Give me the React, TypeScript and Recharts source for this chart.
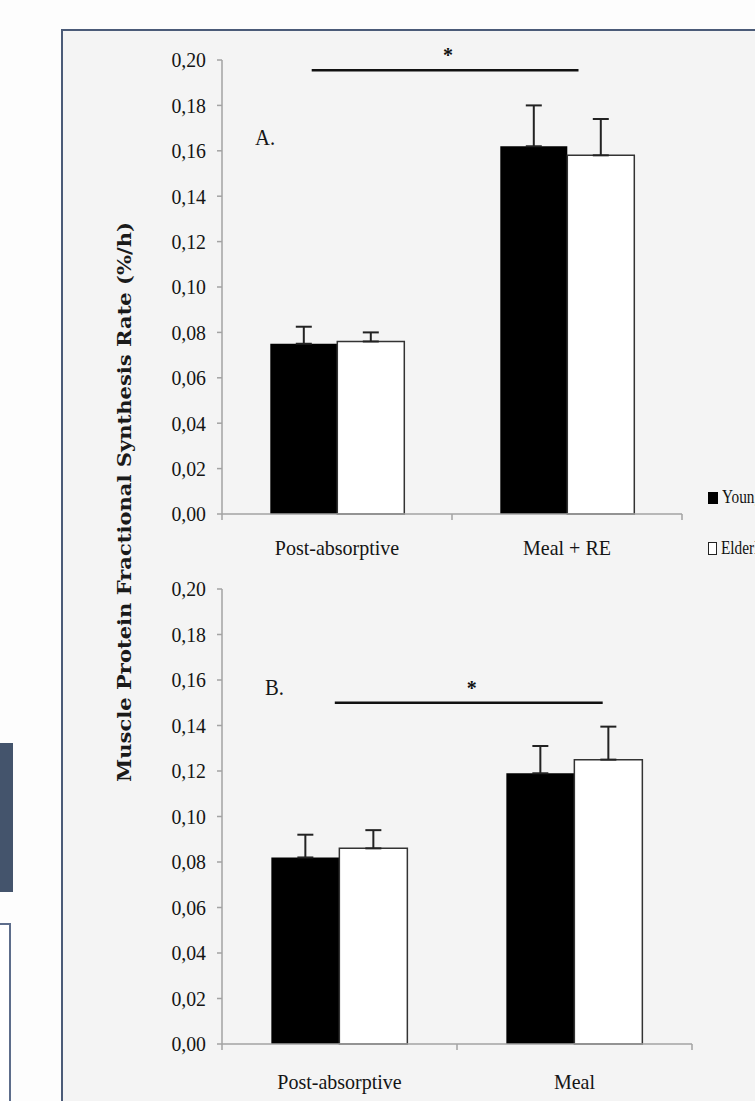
import React from "react";
import { BarChart, Bar, XAxis, YAxis, ErrorBar, ReferenceLine, Legend } from "recharts";

// panel A
const categoriesA = ["Post-absorptive", "Meal + RE"];
const youngA = [0.075, 0.162];
const elderlyA = [0.076, 0.158];
const youngErrA = [0.0075, 0.018];
const elderlyErrA = [0.004, 0.016];

// panel B
const categoriesB = ["Post-absorptive", "Meal"];
const youngB = [0.082, 0.119];
const elderlyB = [0.086, 0.125];
const youngErrB = [0.01, 0.012];
const elderlyErrB = [0.008, 0.0145];

const yTicks = [0, 0.02, 0.04, 0.06, 0.08, 0.1, 0.12, 0.14, 0.16, 0.18, 0.2];
const seriesNames = ["Young", "Elderly"];

// significance bars: start/end in category units along the x axis, and height
const sigSpanA = [0.39, 1.55];
const sigLevelA = 0.1955;
const sigSpanB = [0.48, 1.62];
const sigLevelB = 0.15;

const SERIF = "'Liberation Serif', 'Times New Roman', serif";
const AXIS = "#a3a3a3";

const buildRows = (
  cats: string[],
  young: number[],
  elderly: number[],
  youngErr: number[],
  elderlyErr: number[],
) =>
  cats.map((cat, i) => ({
    cat,
    young: young[i],
    elderly: elderly[i],
    youngErr: [0, youngErr[i]],
    elderlyErr: [0, elderlyErr[i]],
  }));

const rowsA = buildRows(categoriesA, youngA, elderlyA, youngErrA, elderlyErrA);
const rowsB = buildRows(categoriesB, youngB, elderlyB, youngErrB, elderlyErrB);

const fmt = (v: number) => v.toFixed(2).replace(".", ",");

function ValTick(props: any) {
  const { x, y, payload } = props;
  return (
    <text
      transform={`translate(${x},${y}) scale(0.9,1)`}
      textAnchor="end"
      dominantBaseline="central"
      fontFamily={SERIF}
      fontSize={22}
      fill="#151515"
    >
      {fmt(payload.value)}
    </text>
  );
}

function CatTick(props: any) {
  const { x, y, payload, index, last, dy } = props;
  const half = payload.offset ?? 0;
  return (
    <g>
      <line x1={x - half} x2={x - half} y1={y} y2={y + 6} stroke={AXIS} strokeWidth={1.5} />
      {index === last && (
        <line x1={x + half} x2={x + half} y1={y} y2={y + 6} stroke={AXIS} strokeWidth={1.5} />
      )}
      <text
        transform={`translate(${x},${y + dy}) scale(0.91,1)`}
        textAnchor="middle"
        dominantBaseline="central"
        fontFamily={SERIF}
        fontSize={22}
        fill="#151515"
      >
        {payload.value}
      </text>
    </g>
  );
}

// horizontal significance bar, cut from the full-width reference line
const sigShape = (span: number[], n: number) => (p: any) => {
  const w = p.x2 - p.x1;
  const a = p.x1 + (w * span[0]) / n;
  const b = p.x1 + (w * span[1]) / n;
  return (
    <g>
      <line x1={a} x2={b} y1={p.y1} y2={p.y1} stroke="#111" strokeWidth={2.5} />
      <text
        x={(a + b) / 2 + 3}
        y={p.y1 - 8}
        textAnchor="middle"
        fontFamily={SERIF}
        fontWeight={700}
        fontSize={20}
        fill="#111"
      >
        *
      </text>
    </g>
  );
};

function LegendBox(props: any) {
  const items = [...(props.payload || [])].sort(
    (a: any, b: any) => seriesNames.indexOf(a.value) - seriesNames.indexOf(b.value),
  );
  return (
    <div style={{ fontFamily: SERIF, fontSize: 18, color: "#111", whiteSpace: "nowrap" }}>
      {items.map((e: any) => {
        const hollow = e.color === "#fff";
        return (
          <div key={e.value} style={{ display: "flex", alignItems: "center", height: 51 }}>
            <span
              style={{
                display: "inline-block",
                width: hollow ? 7 : 10,
                height: hollow ? 11 : 12,
                background: e.color,
                border: hollow ? "1.5px solid #222" : "none",
              }}
            />
            <span style={{ marginLeft: 4, display: "inline-block", transform: "scaleX(0.85)", transformOrigin: "left" }}>
              {e.value}
            </span>
          </div>
        );
      })}
    </div>
  );
}

interface PanelProps {
  rows: any[];
  cats: string[];
  sigSpan: number[];
  sigLevel: number;
  height: number;
  margin: { top: number; right: number; bottom: number; left: number };
  axisHeight: number;
  labelDy: number;
  legend?: boolean;
}

function Panel({ rows, cats, sigSpan, sigLevel, height, margin, axisHeight, labelDy, legend }: PanelProps) {
  return (
    <BarChart width={625} height={height} data={rows} margin={margin} barCategoryGap="21%" barGap={0}>
      <XAxis
        dataKey="cat"
        type="category"
        interval={0}
        height={axisHeight}
        axisLine={{ stroke: AXIS, strokeWidth: 1.5 }}
        tickLine={false}
        tickSize={0}
        tickMargin={0}
        tick={(p: any) => <CatTick {...p} last={cats.length - 1} dy={labelDy} />}
      />
      <YAxis
        domain={[0, 0.2]}
        ticks={yTicks}
        interval={0}
        width={92}
        axisLine={{ stroke: AXIS, strokeWidth: 1.5 }}
        tickLine={{ stroke: AXIS, strokeWidth: 1.5 }}
        tickSize={5}
        tickMargin={11}
        tick={(p: any) => <ValTick {...p} />}
      />
      <ReferenceLine y={sigLevel} shape={sigShape(sigSpan, cats.length)} />
      <Bar dataKey="young" name={seriesNames[0]} fill="#000" isAnimationActive={false}>
        <ErrorBar dataKey="youngErr" width={8} stroke="#222" strokeWidth={2} direction="y" isAnimationActive={false} />
      </Bar>
      <Bar dataKey="elderly" name={seriesNames[1]} fill="#fff" stroke="#333" strokeWidth={1.5} isAnimationActive={false}>
        <ErrorBar dataKey="elderlyErr" width={8} stroke="#222" strokeWidth={2} direction="y" isAnimationActive={false} />
      </Bar>
      {legend && (
        <Legend
          layout="horizontal"
          align="center"
          verticalAlign="middle"
          wrapperStyle={{ left: 578, top: 442, width: 120 }}
          content={(p: any) => <LegendBox {...p} />}
        />
      )}
    </BarChart>
  );
}

const panelLetter: React.CSSProperties = {
  position: "absolute",
  fontFamily: SERIF,
  fontSize: 23,
  lineHeight: 1,
  color: "#151515",
  transform: "scaleX(0.9)",
  transformOrigin: "left",
};

export default function App() {
  return (
    <div
      style={{
        position: "absolute",
        left: 0,
        top: 0,
        width: 755,
        height: 1101,
        overflow: "hidden",
        background: "#fdfdfd",
      }}
    >
      {/* slide decorations */}
      <div style={{ position: "absolute", left: 0, top: 743, width: 13, height: 149, background: "#44546c" }} />
      <div
        style={{
          position: "absolute",
          left: -10,
          top: 923,
          width: 17,
          height: 300,
          border: "2px solid #5d6d8b",
          background: "#fff",
        }}
      />
      <div
        style={{
          position: "absolute",
          left: 61,
          top: 29,
          width: 760,
          height: 1120,
          borderLeft: "2px solid #4b5b78",
          borderTop: "2px solid #4b5b78",
          background: "#f4f4f4",
        }}
      />

      <div style={{ position: "absolute", left: 130, top: 30 }}>
        <Panel
          rows={rowsA}
          cats={categoriesA}
          sigSpan={sigSpanA}
          sigLevel={sigLevelA}
          height={560}
          margin={{ top: 30, right: 73, bottom: 16, left: 0 }}
          axisHeight={60}
          labelDy={34}
          legend
        />
      </div>
      <div style={{ position: "absolute", left: 130, top: 565 }}>
        <Panel
          rows={rowsB}
          cats={categoriesB}
          sigSpan={sigSpanB}
          sigLevel={sigLevelB}
          height={536}
          margin={{ top: 24, right: 63, bottom: 0, left: 0 }}
          axisHeight={57}
          labelDy={38}
        />
      </div>

      <div style={{ ...panelLetter, left: 255, top: 126 }}>A.</div>
      <div style={{ ...panelLetter, left: 265, top: 676 }}>B.</div>

      <svg style={{ position: "absolute", left: 0, top: 0 }} width={200} height={1101}>
        <text
          x={131}
          y={502}
          transform="rotate(-90 131 502)"
          textAnchor="middle"
          fontFamily="'DejaVu Serif', serif"
          fontWeight={700}
          fontSize={18}
          fill="#1a1a1a"
          textLength={560}
          lengthAdjust="spacingAndGlyphs"
        >
          Muscle Protein Fractional Synthesis Rate (%/h)
        </text>
      </svg>
    </div>
  );
}
